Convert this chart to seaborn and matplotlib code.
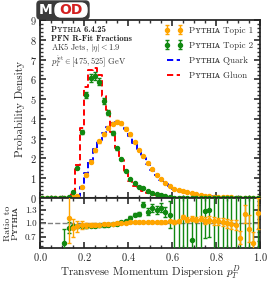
import numpy as np
import pandas as pd
import matplotlib
matplotlib.use("Agg")
import matplotlib.pyplot as plt
from matplotlib.lines import Line2D
from matplotlib.patches import FancyBboxPatch
from matplotlib.ticker import MultipleLocator
import seaborn as sns

# 50 bins of p_T^D between 0 and 1
bin_edges = np.linspace(0.0, 1.0, 51)
bin_centers = 0.5 * (bin_edges[:-1] + bin_edges[1:])

# Pythia truth histograms (probability density per bin)
quark = [0, 0, 0, 0, 0, 0, 0.01, 0.03, 0.12, 0.57,
         1.25, 1.9, 2.5, 2.95, 3.28, 3.58, 3.8, 3.85, 3.74, 3.5,
         3.15, 2.78, 2.4, 2.04, 1.72, 1.42, 1.15, 0.92, 0.73, 0.58,
         0.46, 0.37, 0.3, 0.26, 0.21, 0.17, 0.14, 0.11, 0.09, 0.07,
         0.055, 0.045, 0.036, 0.029, 0.023, 0.018, 0.014, 0.011, 0.008, 0.006]
gluon = [0, 0, 0, 0, 0, 0.005, 0.04, 0.32, 1.65, 3.55,
         5.6, 6.45, 6.55, 6.2, 5.15, 4.45, 3.35, 2.55, 1.92, 1.33,
         0.85, 0.63, 0.48, 0.36, 0.27, 0.2, 0.14, 0.1, 0.075, 0.055,
         0.04, 0.03, 0.022, 0.016, 0.012, 0.009, 0.007, 0.005, 0.004, 0.003,
         0.0025, 0.002, 0.0018, 0.0015, 0.0012, 0.001, 0.001, 0.0008, 0.0006, 0.0005]

nan = np.nan
# Topic / Pythia ratios and their uncertainties
ratio1 = [nan, nan, nan, nan, nan, nan, 1.11, 0.90, 0.93, 0.96,
          0.95, 0.96, 0.97, 0.97, 0.98, 0.99, 0.99, 1.0, 1.01, 1.0,
          1.02, 1.02, 1.02, 1.03, 1.03, 1.02, 1.03, 1.02, 1.03, 1.05,
          1.03, 1.04, 1.14, 1.08, 1.10, 1.08, 1.10, 1.06, 1.08, 1.05,
          1.04, 1.02, 1.0, 0.98, 0.96, 0.68, 1.2, 0.88, 0.55, 1.22]
ratio1_err = [nan, nan, nan, nan, nan, nan, 0.55, 0.2, 0.12, 0.08,
              0.05, 0.04, 0.03, 0.02, 0.02, 0.02, 0.02, 0.02, 0.02, 0.02,
              0.02, 0.02, 0.02, 0.02, 0.02, 0.02, 0.02, 0.03, 0.03, 0.03,
              0.04, 0.04, 0.05, 0.05, 0.05, 0.06, 0.06, 0.07, 0.07, 0.08,
              0.08, 0.09, 0.1, 0.1, 0.12, 0.15, 0.2, 0.3, 0.25, 0.35]
ratio2 = [nan, nan, nan, nan, nan, 0.55, 0.9, 0.93, 0.93, 0.94,
          0.93, 0.94, 0.94, 0.95, 0.95, 0.97, 0.98, 0.99, 1.02, 1.04,
          1.12, 1.19, 1.2, 1.41, 1.26, 1.34, 1.3, 1.34, 1.25, 1.19,
          0.0, 0.0, 0.0, 0.0, 0.62, 0.0, 0.0, 1.28, 1.3, 0.0,
          0.0, 0.0, 0.0, 0.0, 0.0, 0.0, 0.0, 0.0, 0.0, 0.0]
ratio2_err = [nan, nan, nan, nan, nan, 0.33, 0.12, 0.04, 0.03, 0.03,
              0.03, 0.03, 0.03, 0.03, 0.03, 0.03, 0.03, 0.03, 0.03, 0.03,
              0.03, 0.04, 0.05, 0.06, 0.07, 0.08, 0.09, 0.1, 0.12, 0.3,
              1.6, 1.6, 1.6, 1.6, 0.5, 1.6, 1.6, 0.6, 0.6, 1.6,
              1.6, 1.6, 1.6, 1.6, 1.6, 1.6, 1.6, 1.6, 1.6, 1.6]

df = pd.DataFrame({"pTD": bin_centers, "quark": quark, "gluon": gluon,
                   "ratio1": ratio1, "ratio1_err": ratio1_err,
                   "ratio2": ratio2, "ratio2_err": ratio2_err})
df["topic1"] = (df["quark"] * df["ratio1"]).fillna(0)
df["topic1_err"] = (df["quark"] * df["ratio1_err"]).fillna(0)
df["topic2"] = (df["gluon"] * df["ratio2"]).fillna(0)
df["topic2_err"] = (df["gluon"] * df["ratio2_err"]).fillna(0)

sns.set_theme(style="ticks")
plt.rcParams["font.family"] = ["cmr10", "DejaVu Serif"]
plt.rcParams["mathtext.fontset"] = "cm"
plt.rcParams["axes.formatter.use_mathtext"] = True
plt.rcParams["axes.unicode_minus"] = False

PY = "P\u028f\u1d1b\u029c\u026a\u1d00"  # small caps Pythia
orange = "#FFA500"
green = "#118811"
dash = (0, (3.2, 1.8))

fig = plt.figure(figsize=(2.74, 2.83), dpi=100)
ax = fig.add_axes([40 / 274, 1 - 198 / 283, 220 / 274, 178 / 283])
rax = fig.add_axes([40 / 274, 1 - 248 / 283, 220 / 274, 50 / 283], sharex=ax)

# Pythia step histograms
sns.histplot(data=df, x="pTD", weights="quark", binwidth=0.02, binrange=(0, 1),
             element="step", fill=False, color="blue", linestyle=dash, linewidth=1.4, ax=ax)
sns.histplot(data=df, x="pTD", weights="gluon", binwidth=0.02, binrange=(0, 1),
             element="step", fill=False, color="red", linestyle=dash, linewidth=1.4, ax=ax)

# topic points
eb1 = ax.errorbar(df["pTD"], df["topic1"], yerr=df["topic1_err"], fmt="o", color=orange,
                  ms=2.9, elinewidth=1, capsize=1.2, zorder=4)
eb2 = ax.errorbar(df["pTD"], df["topic2"], yerr=df["topic2_err"], fmt="o", color=green,
                  ms=2.9, elinewidth=1, capsize=1.2, zorder=5)

ax.set_xlim(0, 1)
ax.set_ylim(0, 9)
ax.set_ylabel("Probability Density", fontsize=8, labelpad=3)
ax.set_xlabel("")
ax.yaxis.set_major_locator(MultipleLocator(1))
ax.yaxis.set_minor_locator(MultipleLocator(0.2))
ax.xaxis.set_major_locator(MultipleLocator(0.2))
ax.xaxis.set_minor_locator(MultipleLocator(0.05))
ax.tick_params(labelbottom=False)

handles = [eb1, eb2,
           Line2D([], [], color="blue", linestyle=dash, linewidth=1.4),
           Line2D([], [], color="red", linestyle=dash, linewidth=1.4)]
labels = [PY + " Topic 1", PY + " Topic 2", PY + " Quark", PY + " Gluon"]
leg = ax.legend(handles, labels, loc="upper right", frameon=False, numpoints=2,
                fontsize=6.5, handlelength=2.0, labelspacing=0.75,
                borderaxespad=0.3, handletextpad=0.8)
for t in leg.get_texts():
    t.set_color("#333333")

ax.text(0.05, 0.945, PY + " 6.4.25", transform=ax.transAxes, fontsize=6.3,
        va="center", family=["cmb10", "DejaVu Serif"])
ax.text(0.05, 0.893, "PFN R-Fit Fractions", transform=ax.transAxes, fontsize=6.3,
        va="center", family=["cmb10", "DejaVu Serif"])
ax.text(0.05, 0.842, r"AK5 Jets, $|\eta| < 1.9$", transform=ax.transAxes, fontsize=6.0,
        va="center", color="#333333")
ax.text(0.05, 0.766, r"$p_T^{\rm jet} \in [475, 525]$ GeV", transform=ax.transAxes,
        fontsize=6.0, va="center", color="#333333")

# ratio panel
rax.axhline(1.0, color="gray", linestyle="--", linewidth=1)
rax.errorbar(df["pTD"], df["ratio1"], yerr=df["ratio1_err"], fmt="o", color=orange,
             ms=2.9, elinewidth=1, capsize=1.5, zorder=4)
rax.errorbar(df["pTD"], df["ratio2"], yerr=df["ratio2_err"], fmt="o", color=green,
             ms=2.9, elinewidth=1, capsize=1.5, zorder=3)
rax.set_ylim(0.45, 1.56)
rax.set_yticks([0.7, 1.0, 1.3])
rax.set_yticklabels(["0.7", "1.0", "1.3"])
rax.yaxis.set_minor_locator(MultipleLocator(0.1))
rax.set_xlim(0, 1)
rax.set_ylabel("Ratio to\n" + PY, fontsize=7, linespacing=0.9)
rax.set_xlabel(r"Transvese Momentum Dispersion $p_T^D$", fontsize=8, labelpad=0)

for a in (ax, rax):
    a.tick_params(which="both", direction="in", top=True, right=True, labelsize=7.5,
                  color="#333333", pad=2.5)
    a.tick_params(which="major", length=4)
    a.tick_params(which="minor", length=2)
    for s in a.spines.values():
        s.set_color("#222222")
ax.spines["bottom"].set_linewidth(1.5)
ax.spines["bottom"].set_color("#555555")
rax.tick_params(axis="y", labelsize=6.5)
fig.align_ylabels([ax, rax])

# MOD logo
fig.patches.append(FancyBboxPatch((37 / 274, 1 - 19 / 283), 52 / 274, 18 / 283,
                                  boxstyle="round,pad=0,rounding_size=0.012",
                                  transform=fig.transFigure, color="#3a3a3a"))
fig.patches.append(FancyBboxPatch((55 / 274, 1 - 17 / 283), 32 / 274, 14 / 283,
                                  boxstyle="round,pad=0,rounding_size=0.022",
                                  transform=fig.transFigure, color="white"))
fig.text(46 / 274, 1 - 10 / 283, "M", color="white", fontsize=10, fontweight="bold",
         ha="center", va="center", family="DejaVu Sans")
fig.text(71 / 274, 1 - 10 / 283, "OD", color="#d42020", fontsize=10, fontweight="bold",
         ha="center", va="center", family="DejaVu Sans")

fig.savefig("out.png", dpi=100)
